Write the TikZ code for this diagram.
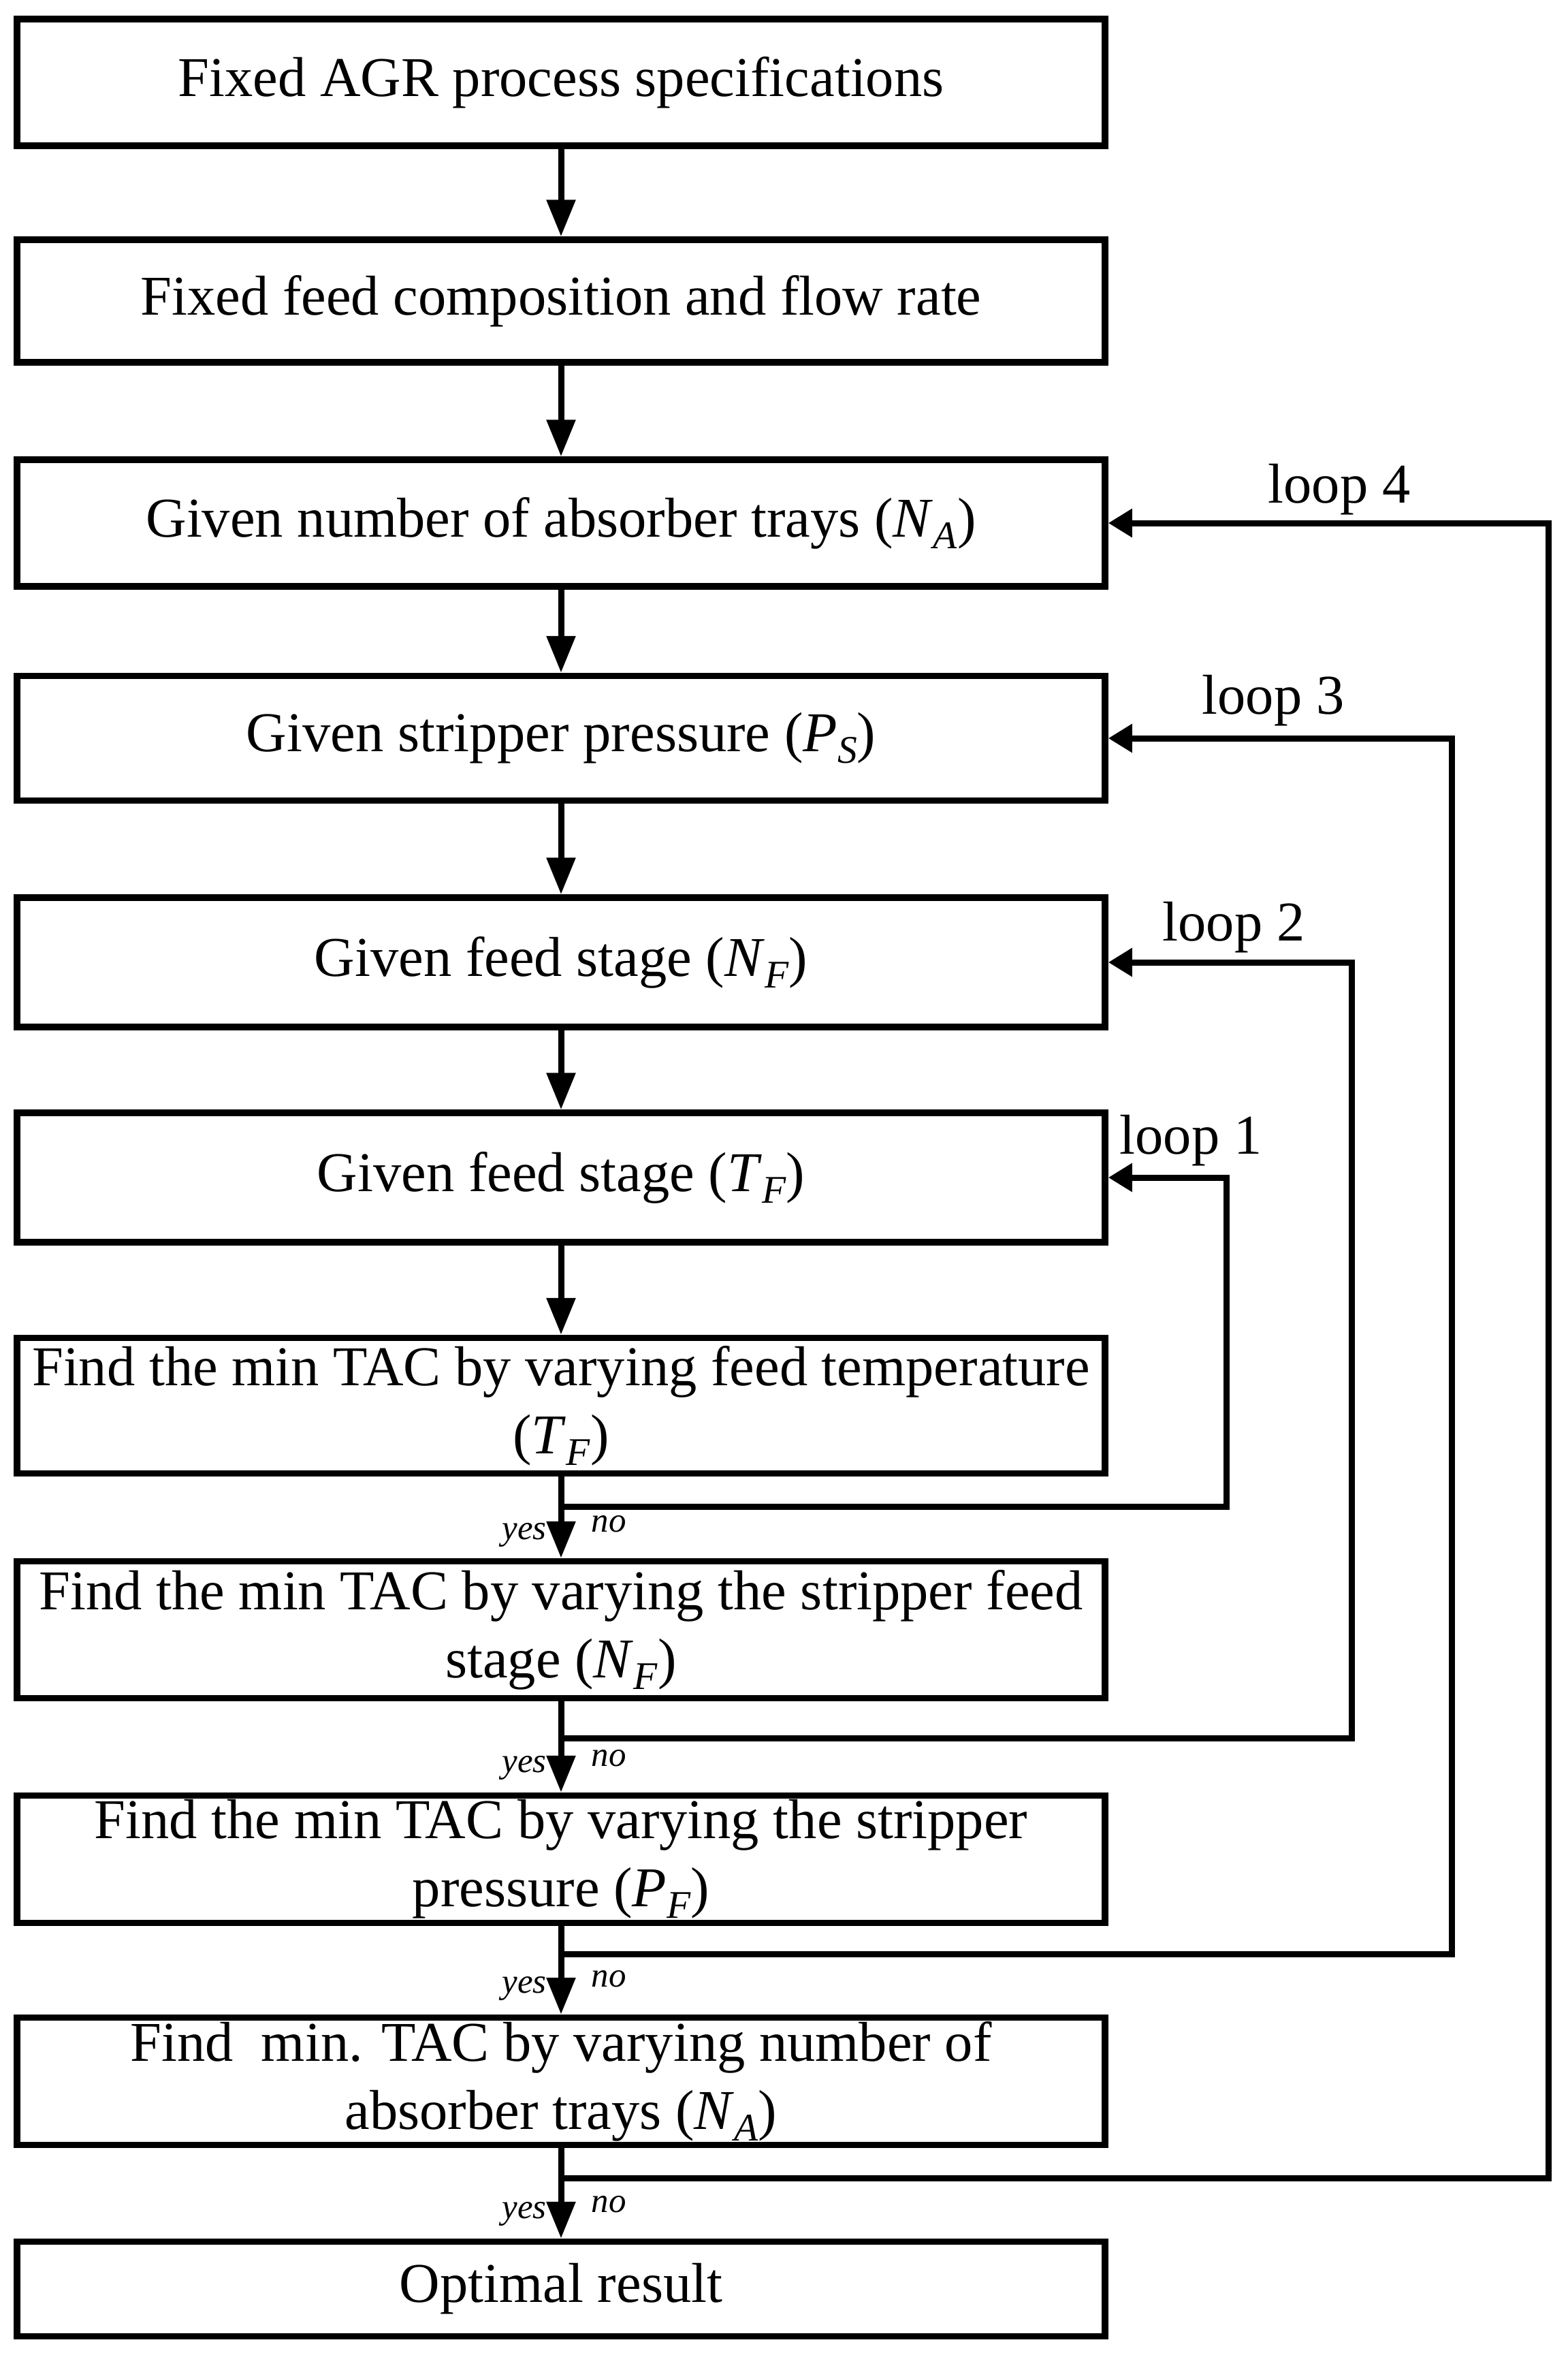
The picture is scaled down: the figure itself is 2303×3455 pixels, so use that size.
\documentclass[tikz,border=0pt]{standalone}
\usepackage{fontspec}
\setmainfont{Liberation Serif}
\usetikzlibrary{arrows.meta}
\newcommand\vsb[2]{\textit{#1}\raisebox{-0.45ex}{\fontsize{11.5}{11.5}\selectfont\textit{#2}}}
\begin{document}
\begin{tikzpicture}[x=0.2pt,y=-0.2pt,
 box/.style={draw,line width=1.9pt,minimum width=319.6pt,inner sep=0pt,align=center,font=\fontsize{16.5}{20}\selectfont},
 lbl/.style={font=\fontsize{16.5}{20}\selectfont,anchor=base,inner sep=0pt},
 yn/.style={font=\fontsize{10.2}{10.2}\selectfont\itshape,inner sep=0pt},
 down/.style={line width=1.8pt,-{Triangle[length=10.8pt,width=8.2pt]}},
 back/.style={line width=1.8pt,-{Triangle[length=7pt,width=8pt]}},
 ln/.style={line width=1.8pt}]
\path[use as bounding box] (0,0) rectangle (2303,3455);

\node[box,minimum height=37.2pt] (b1) at (824,121) {Fixed AGR process specifications};
\node[box,minimum height=36pt] (b2) at (824,442) {Fixed feed composition and flow rate};
\node[box,minimum height=37.2pt] (b3) at (824,768) {Given number of absorber trays (\vsb{N}{A})};
\node[box,minimum height=36.6pt] (b4) at (824,1084) {Given stripper pressure (\vsb{P}{S})};
\node[box,minimum height=38pt] (b5) at (824,1413) {Given feed stage (\vsb{N}{F})};
\node[box,minimum height=38pt] (b6) at (824,1729) {Given feed stage (\vsb{T}{F})};
\node[box,minimum height=39.8pt] (b7) at (824,2064) {Find the min TAC by varying feed temperature\\(\vsb{T}{F})};
\node[box,minimum height=40.2pt] (b8) at (824,2393) {Find the min TAC by varying the stripper feed\\stage (\vsb{N}{F})};
\node[box,minimum height=37.4pt] (b9) at (824,2730) {Find the min TAC by varying the stripper\\pressure (\vsb{P}{F})};
\node[box,minimum height=37.4pt] (b10) at (824,3056) {Find~ min. TAC by varying number of\\absorber trays (\vsb{N}{A})};
\node[box,minimum height=27.8pt] (b11) at (824,3361) {Optimal result};

\draw[down] (b1.south) -- (b2.north);
\draw[down] (b2.south) -- (b3.north);
\draw[down] (b3.south) -- (b4.north);
\draw[down] (b4.south) -- (b5.north);
\draw[down] (b5.south) -- (b6.north);
\draw[down] (b6.south) -- (b7.north);
\draw[down] (b7.south) -- (b8.north);
\draw[down] (b8.south) -- (b9.north);
\draw[down] (b9.south) -- (b10.north);
\draw[down] (b10.south) -- (b11.north);

\coordinate (j1) at (824,2212); \coordinate (c1) at (1801,2212);
\coordinate (j2) at (824,2552); \coordinate (c2) at (1985,2552);
\coordinate (j3) at (824,2869); \coordinate (c3) at (2132,2869);
\coordinate (j4) at (824,3198); \coordinate (c4) at (2274,3198);
\draw[back] (j1) -- (c1) |- (b6.east);
\draw[back] (j2) -- (c2) |- (b5.east);
\draw[back] (j3) -- (c3) |- (b4.east);
\draw[back] (j4) -- (c4) |- (b3.east);

\node[lbl] (L4) at (1967,738) {loop 4};
\node[lbl] (L3) at (1870,1048) {loop 3};
\node[lbl] (L2) at (1812,1381) {loop 2};
\node[lbl] (L1) at (1749,1694) {loop 1};

\node[yn] (y1) at (770,2254) {yes}; \node[yn] (n1) at (894,2238) {no};
\node[yn] (y2) at (770,2596) {yes}; \node[yn] (n2) at (894,2582) {no};
\node[yn] (y3) at (770,2920) {yes}; \node[yn] (n3) at (894,2906) {no};
\node[yn] (y4) at (770,3251) {yes}; \node[yn] (n4) at (894,3237) {no};
\end{tikzpicture}
\end{document}
